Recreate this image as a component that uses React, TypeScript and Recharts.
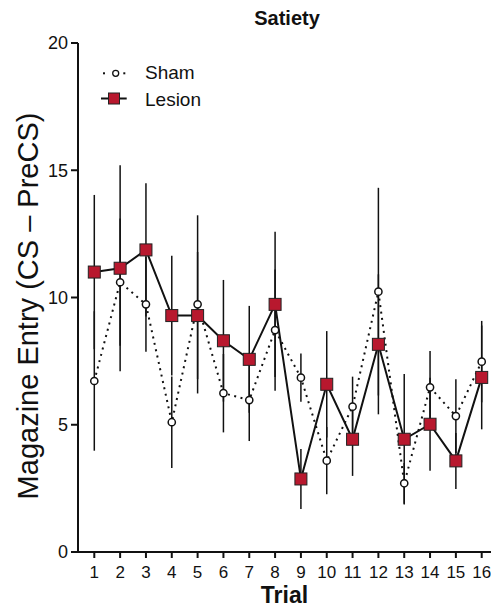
import React from 'react';
import { ComposedChart, Line, XAxis, YAxis, ErrorBar, Legend, Customized } from 'recharts';

const trials = [1, 2, 3, 4, 5, 6, 7, 8, 9, 10, 11, 12, 13, 14, 15, 16];
const sham = [6.72, 10.6, 9.73, 5.1, 9.73, 6.24, 5.97, 8.72, 6.85, 3.59, 5.71, 10.23, 2.7, 6.47, 5.34, 7.48];
const shamErr = [2.74, 2.5, 1.86, 1.8, 3.5, 1.54, 1.61, 2.38, 0.95, 1.32, 1.18, 4.08, 0.8, 1.43, 1.45, 1.6];
const lesion = [11.0, 11.15, 11.87, 9.29, 9.29, 8.3, 7.57, 9.73, 2.87, 6.59, 4.43, 8.16, 4.43, 5.02, 3.58, 6.86];
const lesionErr = [3.03, 4.05, 2.62, 2.35, 2.5, 2.39, 2.1, 2.85, 1.18, 2.09, 1.44, 2.75, 2.56, 1.83, 1.1, 2.04];
const yTicks = [0, 5, 10, 15, 20];

const title = 'Satiety';
const xLabel = 'Trial';
const yLabel = 'Magazine Entry (CS – PreCS)';

const data = trials.map((t, i) => ({
  trial: t,
  sham: sham[i],
  shamErr: shamErr[i],
  lesion: lesion[i],
  lesionErr: lesionErr[i],
}));

const FONT = '"Liberation Sans", Arial, sans-serif';
const RED = '#B8182E';
const INK = '#111111';

const renderSquare = (props: any) => {
  const { cx, cy, index } = props;
  if (cx == null || cy == null) return <g key={`sq-${index}`} />;
  return (
    <rect key={`sq-${index}`} x={cx - 6} y={cy - 6} width={12} height={12} fill={RED} stroke="#222" strokeWidth={1} />
  );
};

const renderCircle = (props: any) => {
  const { cx, cy, index } = props;
  if (cx == null || cy == null) return <g key={`ci-${index}`} />;
  return <circle key={`ci-${index}`} cx={cx} cy={cy} r={3.6} fill="#fff" stroke={INK} strokeWidth={1.5} />;
};

const renderLegend = () => (
  <svg width={140} height={56} style={{ display: 'block', overflow: 'visible' }}>
    <rect x={8} y={14.3} width={2} height={2} fill={INK} />
    <circle cx={20.7} cy={15.3} r={3} fill="#fff" stroke={INK} strokeWidth={1.3} />
    <rect x={28.3} y={14.3} width={2} height={2} fill={INK} />
    <text x={50} y={21} fontFamily={FONT} fontSize={19} fill={INK}>Sham</text>
    <line x1={6} y1={40.5} x2={31.7} y2={40.5} stroke={INK} strokeWidth={2} />
    <rect x={13.5} y={35} width={11} height={11} fill={RED} stroke="#222" strokeWidth={1} />
    <text x={50} y={47.5} fontFamily={FONT} fontSize={19} fill={INK}>Lesion</text>
  </svg>
);

const Texts = () => (
  <g>
    <text x={287} y={25} textAnchor="middle" fontFamily={FONT} fontSize={20} fontWeight="bold" fill={INK}>
      {title}
    </text>
    <text
      x={0}
      y={0}
      transform="translate(38 306) rotate(-90)"
      textAnchor="middle"
      fontFamily={FONT}
      fontSize={29}
      fill={INK}
    >
      {yLabel}
    </text>
  </g>
);

export default function App() {
  return (
    <div style={{ position: 'absolute', left: 0, top: 0, width: 491, height: 611, background: '#fff' }}>
      <ComposedChart width={491} height={611} data={data} margin={{ top: 43, right: 0, bottom: 0, left: 0 }}>
        <XAxis
          dataKey="trial"
          type="number"
          domain={[0.369, 16.36]}
          ticks={trials}
          interval={0}
          allowDataOverflow
          height={59}
          tickSize={6}
          tickMargin={8}
          axisLine={{ stroke: INK, strokeWidth: 2 }}
          tickLine={{ stroke: INK, strokeWidth: 2 }}
          tick={{ fontSize: 17, fill: INK, fontFamily: FONT }}
          label={{ value: xLabel, position: 'insideBottom', offset: 8, fontSize: 23, fontWeight: 'bold', fill: INK, fontFamily: FONT }}
        />
        <YAxis
          type="number"
          domain={[0, 20]}
          ticks={yTicks}
          interval={0}
          width={78}
          tickSize={7}
          tickMargin={3}
          axisLine={{ stroke: INK, strokeWidth: 2 }}
          tickLine={{ stroke: INK, strokeWidth: 2 }}
          tick={{ fontSize: 18, fill: INK, fontFamily: FONT }}
        />
        <Line dataKey="sham" stroke="none" dot={false} activeDot={false} legendType="none" isAnimationActive={false}>
          <ErrorBar dataKey="shamErr" width={0} stroke={INK} strokeWidth={1.5} direction="y" />
        </Line>
        <Line dataKey="lesion" stroke="none" dot={false} activeDot={false} legendType="none" isAnimationActive={false}>
          <ErrorBar dataKey="lesionErr" width={0} stroke={INK} strokeWidth={1.5} direction="y" />
        </Line>
        <Line
          dataKey="sham"
          name="Sham"
          stroke={INK}
          strokeWidth={2}
          strokeDasharray="2 4.5"
          dot={renderCircle}
          activeDot={false}
          isAnimationActive={false}
        />
        <Line
          dataKey="lesion"
          name="Lesion"
          stroke={INK}
          strokeWidth={2}
          dot={renderSquare}
          activeDot={false}
          isAnimationActive={false}
        />
        <Legend
          layout="vertical"
          align="center"
          verticalAlign="middle"
          wrapperStyle={{ left: 95, top: 58, width: 140, height: 56 }}
          content={renderLegend}
        />
        <Customized component={Texts} />
      </ComposedChart>
    </div>
  );
}
